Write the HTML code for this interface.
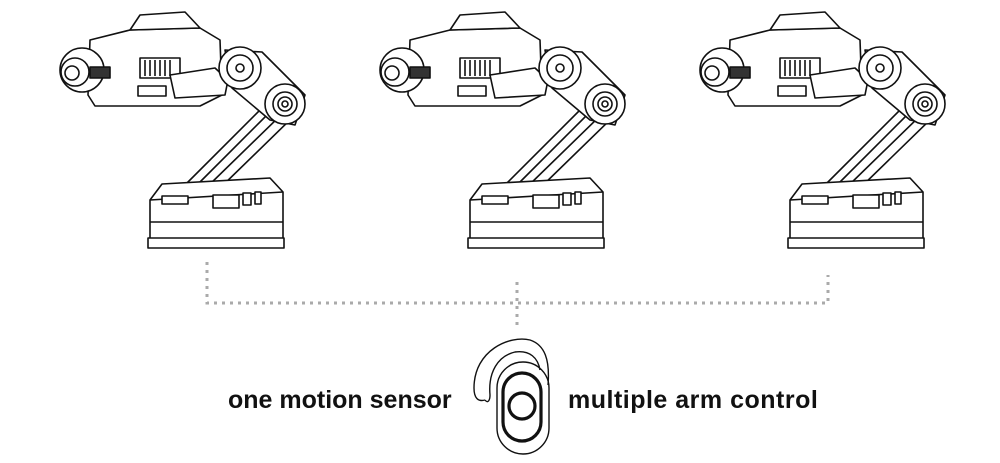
<!DOCTYPE html>
<html><head><style>
html,body{margin:0;padding:0;background:#fff;}
body{width:1000px;height:463px;overflow:hidden;position:relative;font-family:"Liberation Sans",sans-serif;}
.t{position:absolute;top:386px;font-size:25px;font-weight:bold;color:#111;letter-spacing:0px;}
</style></head><body>
<svg width="1000" height="463" style="position:absolute;left:0;top:0">
<defs>
<g id="r" fill="#fff" stroke="#111" stroke-width="1.6" stroke-linejoin="round">
  <polygon points="262,108 294,116 218,190 186,184"/>
  <line x1="270" y1="112" x2="196" y2="186"/><line x1="282" y1="114" x2="206" y2="188"/>
  <polygon points="150,200 162,184 270,178 283,192 283,240 150,240"/>
  <line x1="150" y1="200" x2="283" y2="192"/>
  <rect x="148" y="238" width="136" height="10"/>
  <line x1="150" y1="222" x2="283" y2="222"/>
  <rect x="162" y="196" width="26" height="8"/>
  <rect x="213" y="195" width="26" height="13"/><rect x="243" y="193" width="8" height="12"/><rect x="255" y="192" width="6" height="12"/>
  <polygon points="90,40 130,30 200,28 220,40 222,95 200,106 95,106 88,95"/>
  <polygon points="130,30 140,15 185,12 200,28"/>
  <rect x="140" y="58" width="40" height="20"/>
  <line x1="145" y1="60" x2="145" y2="76"/><line x1="150" y1="60" x2="150" y2="76"/><line x1="155" y1="60" x2="155" y2="76"/><line x1="160" y1="60" x2="160" y2="76"/><line x1="165" y1="60" x2="165" y2="76"/><line x1="170" y1="60" x2="170" y2="76"/>
  <rect x="138" y="86" width="28" height="10"/>
  <polygon points="170,75 215,68 228,80 225,95 175,98"/>
  <circle cx="82" cy="70" r="22"/>
  <circle cx="75" cy="72" r="14"/>
  <circle cx="72" cy="73" r="7"/>
  <rect x="90" y="67" width="20" height="11" fill="#333"/>
  <polygon points="225,50 262,52 305,95 295,125 270,120 232,88"/>
  <circle cx="240" cy="68" r="21"/><circle cx="240" cy="68" r="13"/><circle cx="240" cy="68" r="4"/>
  <circle cx="285" cy="104" r="20"/><circle cx="285" cy="104" r="12"/><circle cx="285" cy="104" r="7"/><circle cx="285" cy="104" r="3"/>
</g>
</defs>
<use href="#r"/>
<use href="#r" x="320"/>
<use href="#r" x="640"/>
<g stroke="#aaa" stroke-width="3" stroke-dasharray="3 5" fill="none">
  <path d="M207,262 V303 H828 V275"/>
  <path d="M517,282 V328"/>
</g>
<g fill="none" stroke="#111">
  <path d="M485,400 C478,402 474,398 474,388 C474,350 510,335 530,340 C545,345 550,360 548,385 M540,370 C538,358 530,350 515,352 C498,356 488,372 490,395 C490,400 488,404 485,400" stroke-width="1.4"/>
  <rect x="497" y="362" width="52" height="92" rx="26" stroke-width="1.4"/>
  <rect x="503" y="373" width="38" height="68" rx="19" stroke-width="3.2"/>
  <circle cx="522" cy="406" r="13" stroke-width="3.2"/>
</g>
</svg>
<div class="t" style="left:228px">one motion sensor</div>
<div class="t" style="left:568px;letter-spacing:0.5px">multiple arm control</div>
</body></html>
